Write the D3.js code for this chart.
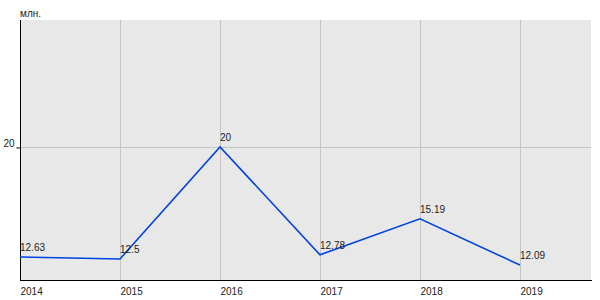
<body style="margin:0">
<script src="https://d3js.org/d3.v7.min.js"></script>
<script>
// chart data
var years = [2014, 2015, 2016, 2017, 2018, 2019]
var values = [12.63, 12.5, 20, 12.78, 15.19, 12.09]
var valueLabels = ['12.63', '12.5', '20', '12.78', '15.19', '12.09']
var yTicks = [20]
var unitLabel = 'млн.'

// window dimensions
var svgWidth = 600
var svgHeight = 300
// plot area
var left = 20
var top0 = 20
var right = 591
var bottom = 280

var svg = d3.select('body').append('svg')
	.attr('width', svgWidth)
	.attr('height', svgHeight)
	.style('font-family', 'Liberation Sans, Arial, sans-serif')
	.style('font-size', '10px')

var x = d3.scaleLinear().domain([2014, 2019.71]).range([left, right])
var y = d3.scaleLinear().domain([11.09, 28.5]).range([bottom, top0])

// background
svg.append('rect')
	.attr('x', left)
	.attr('y', top0)
	.attr('width', right - left)
	.attr('height', bottom - top0)
	.attr('fill', '#e8e8e8')

// vertical grid
svg.selectAll('.vgrid')
	.data(years.slice(1))
	.enter().append('line')
	.attr('class', 'vgrid')
	.attr('x1', function(d){ return Math.round(x(d)) + 0.5 })
	.attr('x2', function(d){ return Math.round(x(d)) + 0.5 })
	.attr('y1', top0)
	.attr('y2', bottom)
	.attr('stroke', '#c4c4c4')

// horizontal grid
svg.selectAll('.hgrid')
	.data(yTicks)
	.enter().append('line')
	.attr('class', 'hgrid')
	.attr('x1', left)
	.attr('x2', right)
	.attr('y1', function(d){ return Math.round(y(d)) + 0.5 })
	.attr('y2', function(d){ return Math.round(y(d)) + 0.5 })
	.attr('stroke', '#c4c4c4')

// y axis
var yAxis = svg.append('g')
	.attr('transform', 'translate(' + (left + 0.5) + ',0.5)')
	.call(d3.axisLeft(y).tickValues(yTicks).tickSize(4).tickSizeOuter(0).tickFormat(d3.format('d')))
yAxis.select('.domain').attr('d', 'M0,' + (top0 - 0.5) + 'V' + (bottom - 0.5)).attr('stroke', '#000')
yAxis.selectAll('text').attr('x', -6).attr('dy', '-0.05em').attr('fill', '#222').style('font-size', '10px').style('font-family', 'Liberation Sans, Arial, sans-serif')

// x axis
var xAxis = svg.append('g')
	.attr('transform', 'translate(0,' + (bottom + 0.5) + ')')
	.call(d3.axisBottom(x).tickValues(years).tickSize(0).tickSizeOuter(0).tickFormat(d3.format('d')))
xAxis.select('.domain').attr('d', 'M' + left + ',0H' + (right + 1)).attr('stroke', '#000')
xAxis.selectAll('text').attr('text-anchor', 'start').attr('y', 7).attr('fill', '#222').style('font-size', '10px').style('font-family', 'Liberation Sans, Arial, sans-serif')

// line
var line = d3.line()
	.x(function(d, i){ return x(years[i]) })
	.y(function(d){ return y(d) })

svg.append('path')
	.datum(values)
	.attr('d', line)
	.attr('fill', 'none')
	.attr('stroke', '#0044dd')
	.attr('stroke-width', 1.6)

// value labels
svg.selectAll('.vlabel')
	.data(values)
	.enter().append('text')
	.attr('class', 'vlabel')
	.attr('x', function(d, i){ return x(years[i]) })
	.attr('y', function(d){ return y(d) - 6 })
	.attr('fill', '#222')
	.text(function(d, i){ return valueLabels[i] })

// unit
svg.append('text')
	.attr('x', left)
	.attr('y', 17)
	.attr('fill', '#222')
	.text(unitLabel)
</script>
</body>
